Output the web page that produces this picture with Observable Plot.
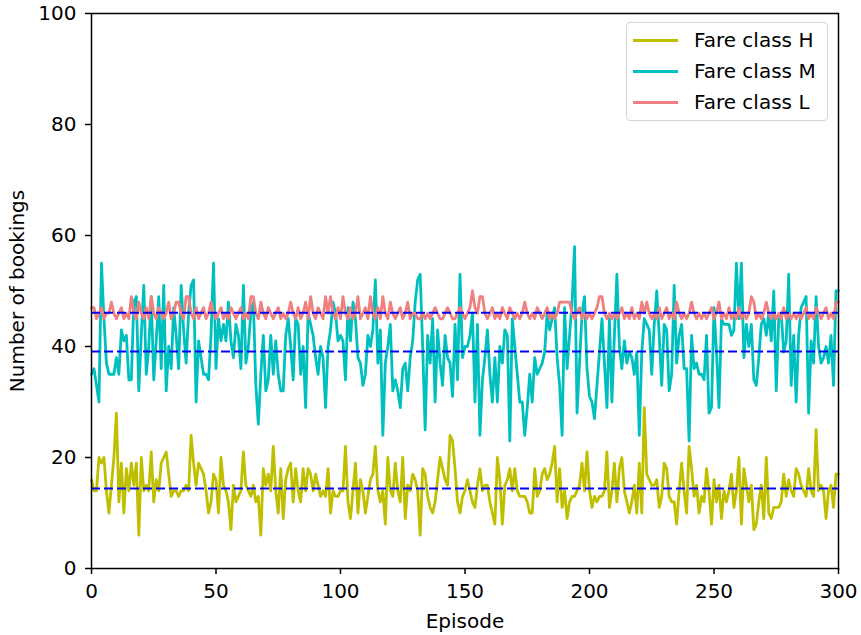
<!DOCTYPE html>
<html><head><meta charset="utf-8">
<script src="https://cdn.jsdelivr.net/npm/d3@7"></script>
<script src="https://cdn.jsdelivr.net/npm/@observablehq/plot@0.6"></script>
<style>
body{margin:0;background:#fff;font-family:"DejaVu Sans",sans-serif;}
#wrap{position:relative;width:861px;height:635px;}
#legend{position:absolute;left:626px;top:22px;width:202px;height:99px;border:1px solid #d6d6d6;border-radius:4px;background:rgba(255,255,255,0.85);box-sizing:border-box;}
.row{position:absolute;left:0;height:30px;display:flex;align-items:center;font-size:20px;color:#000;white-space:nowrap;}
.sw{display:inline-block;width:45px;height:3px;margin-left:6px;margin-right:16px;}
</style></head>
<body>
<div id="wrap"></div>
<script>
const seriesNames = ["Fare class H", "Fare class M", "Fare class L"];
const seriesColors = ["#bfbf00", "#00bfbf", "#f08080"];
const xTicks = [0, 50, 100, 150, 200, 250, 300];
const yTicks = [0, 20, 40, 60, 80, 100];
const meanValues = [14.4, 39.1, 46.1];

const fareH = [
16,14,14,20,19,20,14,10,15,20,
28,12,19,10,18,14,19,15,19,6,
20,14,15,14,21,12,16,14,19,20,
21,17,13,14,14,13,14,14,15,14,
24,19,15,19,18,17,14,10,12,17,
16,10,20,15,14,12,7,15,12,13,
14,21,15,14,13,15,12,13,6,18,
15,17,14,22,14,10,18,9,16,18,
19,12,18,14,12,18,14,18,17,14,
17,15,13,14,13,18,10,14,13,13,
14,14,22,12,9,14,19,10,16,14,
10,13,16,17,22,14,12,14,8,20,
14,13,19,14,12,20,9,15,14,17,
16,14,6,18,17,13,11,10,12,16,
20,18,16,15,24,23,18,12,10,13,
14,16,14,12,11,15,18,14,15,15,
12,10,8,20,16,8,15,16,18,14,
18,14,13,13,13,12,10,10,18,13,
14,17,18,16,17,19,22,12,18,11,
14,9,12,13,13,14,15,19,14,21,
14,11,13,12,13,13,14,21,11,14,
19,12,18,20,14,12,10,12,15,10,
19,10,29,17,16,15,15,16,11,13,
19,18,13,12,12,8,14,19,14,10,
22,18,13,15,10,13,12,18,14,8,
16,12,15,9,14,12,14,17,11,14,
20,8,18,15,12,15,7,8,12,15,
9,20,10,9,11,11,11,12,17,13,
16,14,13,18,17,15,14,13,18,14,
13,25,14,15,14,9,14,15,11,17,
17];

const fareM = [
35,36,33,30,55,45,37,35,35,35,
38,35,43,41,42,34,34,48,49,32,
42,51,35,40,49,34,41,49,36,51,
32,40,36,47,42,36,51,43,37,46,
51,52,30,41,38,35,35,34,42,55,
36,45,41,44,41,48,41,38,44,42,
36,51,37,40,46,48,33,26,35,42,
32,34,42,35,41,35,32,32,42,45,
40,34,45,44,35,40,29,46,44,42,
38,35,40,38,29,40,43,48,46,41,
42,41,34,47,41,48,45,38,37,33,
35,42,40,43,52,37,43,24,37,40,
44,32,34,32,29,36,37,32,38,41,
48,52,53,40,25,42,37,45,30,43,
37,33,42,38,37,31,44,34,53,38,
40,40,42,46,30,44,24,34,38,43,
35,30,38,30,40,37,43,42,23,45,
40,35,30,30,24,29,35,30,38,35,
36,37,39,46,43,45,47,38,33,24,
47,36,42,48,58,28,37,46,49,36,
31,30,27,33,39,45,37,29,45,30,
42,53,40,36,41,37,39,38,35,39,
24,39,45,44,43,35,44,50,42,33,
44,43,32,35,51,37,42,44,36,36,
23,42,36,37,35,35,34,42,28,29,
47,39,29,45,44,44,44,42,43,55,
45,55,38,44,40,44,34,33,38,44,
45,42,46,41,50,32,45,46,39,41,
53,33,42,30,42,47,48,49,28,41,
37,49,40,37,38,40,37,42,33,50,
50];

const fareL = [
47,47,45,46,47,45,46,46,48,46,
45,46,47,45,46,45,49,46,45,48,
46,45,47,45,49,46,45,47,46,45,
46,48,45,46,48,48,46,45,49,49,
46,45,47,45,46,47,45,46,48,46,
45,46,47,45,46,45,47,46,45,46,
47,45,46,45,49,49,46,45,48,46,
45,47,46,45,46,47,45,46,45,46,
48,46,45,47,45,46,48,45,49,46,
45,47,46,45,49,46,49,46,45,47,
45,49,46,45,47,45,46,49,45,46,
47,45,49,46,45,47,45,49,46,45,
48,46,45,46,47,45,46,48,45,46,
46,45,45,46,45,46,45,46,47,46,
45,45,46,47,46,45,45,46,47,46,
45,46,47,50,47,46,49,49,46,45,
46,47,45,46,45,47,46,45,47,46,
45,46,45,46,48,46,45,46,45,47,
46,45,46,47,45,46,45,46,48,48,
48,48,48,46,45,46,47,45,46,45,
46,45,46,47,49,49,46,45,46,45,
46,45,46,47,45,46,45,47,45,46,
45,48,46,48,46,45,46,45,47,45,
46,47,45,46,45,48,46,45,46,45,
46,48,46,45,46,45,46,45,46,47,
45,46,48,45,46,45,47,45,46,45,
47,45,46,45,46,49,48,45,46,45,
46,48,46,45,46,45,46,45,47,45,
46,45,46,45,46,45,46,47,45,46,
45,47,46,45,46,47,45,46,45,48,
48];

const seriesData = [fareH, fareM, fareL];

const chart = Plot.plot({
  width: 861,
  height: 635,
  marginLeft: 91,
  marginRight: 23,
  marginTop: 13,
  marginBottom: 67,
  style: {fontFamily: "DejaVu Sans", fontSize: "20px", color: "black", background: "white"},
  x: {domain: [0, 300]},
  y: {domain: [0, 100]},
  marks: [
    ...seriesData.map((arr, k) => Plot.lineY(arr, {x: (d, i) => i, y: d => d, stroke: seriesColors[k], strokeWidth: 2.8})),
    Plot.ruleY(meanValues, {stroke: "#0000ff", strokeWidth: 2, strokeDasharray: "9,4"}),
    Plot.frame({stroke: "black", strokeWidth: 1.5}),
    Plot.axisX({ticks: xTicks, tickSize: 6, tickPadding: 9, strokeWidth: 1.5, label: "Episode", labelAnchor: "center", labelArrow: "none", labelOffset: 59}),
    Plot.axisY({ticks: yTicks, tickSize: 6, tickPadding: 9, strokeWidth: 1.5, label: "Number of bookings", labelAnchor: "center", labelArrow: "none", labelOffset: 82})
  ]
});
const wrap = document.getElementById("wrap");
wrap.appendChild(chart);

const legend = document.createElement("div");
legend.id = "legend";
seriesNames.forEach((name, k) => {
  const row = document.createElement("div");
  row.className = "row";
  row.style.top = (2 + k * 31) + "px";
  const sw = document.createElement("span");
  sw.className = "sw";
  sw.style.background = seriesColors[k];
  row.appendChild(sw);
  row.appendChild(document.createTextNode(name));
  legend.appendChild(row);
});
wrap.appendChild(legend);
</script>
</body></html>
